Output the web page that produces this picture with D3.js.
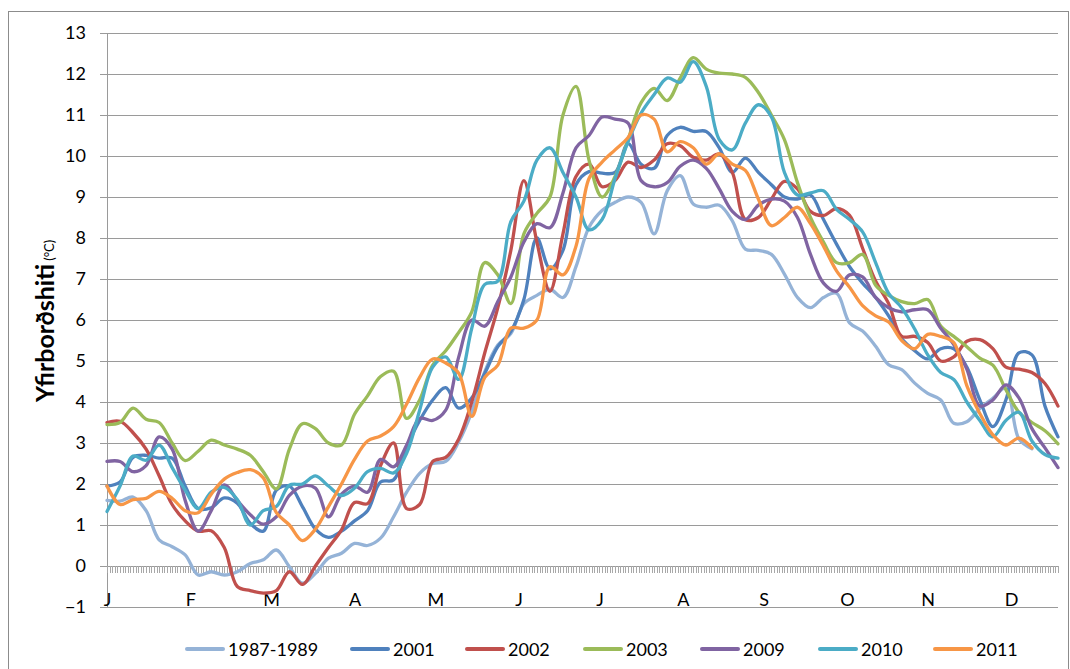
<!DOCTYPE html>
<html>
<head>
<meta charset="utf-8">
<script src="https://cdn.jsdelivr.net/npm/d3@7"></script>
<style>
  html, body { margin: 0; padding: 0; background: #fff; }
  svg { display: block; font-family: Lato, "Open Sans", sans-serif; }
</style>
</head>
<body>
<svg id="chart" width="1070" height="669"></svg>
<script>
// ---- data ----
const days = [0,5,10,15,20,25,30,35,40,45,50,55,60,65,70,75,80,85,90,95,100,105,110,115,120,125,130,135,140,145,150,155,160,165,170,175,180,185,190,195,200,205,210,215,220,225,230,235,240,245,250,255,260,265,270,275,280,285,290,295,300,305,310,315,320,325,330,335,340,345,350,355,360,365];

const seriesNames = ["1987-1989","2001","2002","2003","2009","2010","2011"];

const v1987_1989 = [1.6,1.58,1.68,1.35,0.64,0.47,0.27,-0.22,-0.14,-0.22,-0.14,0.06,0.15,0.39,-0.02,-0.42,-0.18,0.19,0.31,0.55,0.5,0.68,1.2,1.8,2.26,2.5,2.55,3.03,3.76,4.74,5.39,5.67,6.4,6.6,6.75,6.55,7.3,8.26,8.67,8.87,9.0,8.87,8.1,9.15,9.52,8.83,8.75,8.8,8.42,7.73,7.7,7.6,7.12,6.55,6.3,6.55,6.65,5.93,5.73,5.36,4.91,4.79,4.46,4.21,4.05,3.48,3.52,3.84,4.09,4.34,3.1,2.86,null,null];

const v2001 = [1.95,2.05,2.65,2.7,2.63,2.63,1.95,1.4,1.42,1.66,1.53,1.04,0.85,1.85,1.95,1.45,0.9,0.7,0.85,1.1,1.35,2.05,2.1,2.9,3.55,4.05,4.35,3.85,4.1,4.7,5.35,5.72,6.5,8.0,7.25,7.7,9.3,9.62,9.58,9.6,10.3,9.8,9.7,10.5,10.7,10.6,10.6,10.2,9.6,9.95,9.6,9.3,9.0,8.95,9.05,8.45,7.85,7.3,6.9,6.55,6.1,5.55,5.25,5.05,5.3,5.3,4.85,4.05,3.4,4.05,5.2,5.15,3.9,3.15];

const v2002 = [3.5,3.53,3.25,2.85,2.2,1.5,1.1,0.85,0.86,0.45,-0.5,-0.6,-0.66,-0.6,-0.14,-0.45,0.0,0.45,0.88,1.55,1.52,2.45,3.0,1.4,1.5,2.55,2.65,3.1,4.0,5.2,6.3,7.7,9.4,7.9,6.7,8.1,9.5,9.8,9.25,9.4,9.85,9.72,9.9,10.3,10.25,9.97,9.9,10.05,9.6,8.45,8.5,8.95,9.38,9.2,8.65,8.55,8.72,8.55,7.75,6.95,6.4,5.6,5.6,5.45,5.0,5.1,5.48,5.52,5.3,4.85,4.8,4.72,4.45,3.9];

const v2003 = [3.45,3.5,3.85,3.58,3.5,3.0,2.57,2.8,3.07,2.95,2.85,2.7,2.3,1.88,2.85,3.47,3.35,3.0,2.95,3.7,4.15,4.62,4.75,3.6,4.05,4.9,5.25,5.7,6.2,7.4,7.1,6.4,8.1,8.6,9.0,11.0,11.7,9.9,9.0,9.5,10.4,11.3,11.65,11.35,11.9,12.4,12.12,12.02,12.0,11.92,11.55,11.0,10.4,9.35,8.5,7.9,7.4,7.4,7.6,6.85,6.6,6.45,6.4,6.5,5.85,5.6,5.35,5.07,4.9,4.3,3.75,3.5,3.3,2.98];

const v2009 = [2.55,2.55,2.3,2.45,3.15,2.85,1.6,0.85,1.35,1.98,1.6,1.25,1.02,1.2,1.72,1.95,1.9,1.2,1.75,1.95,1.8,2.6,2.42,2.95,3.6,3.55,3.8,5.1,6.0,5.85,6.45,7.05,7.9,8.35,8.25,9.1,10.2,10.5,10.95,10.9,10.8,9.4,9.25,9.35,9.75,9.9,9.7,9.2,8.65,8.45,8.8,8.95,8.9,8.5,7.6,6.9,6.7,7.1,7.05,6.55,6.3,6.2,6.25,6.25,5.8,5.4,4.8,3.9,4.05,4.42,4.1,3.35,2.88,2.4];

const v2010 = [1.33,1.95,2.68,2.58,2.95,2.4,1.85,1.4,1.8,1.92,1.62,1.0,1.35,1.45,1.97,2.0,2.2,1.95,1.72,1.9,2.3,2.38,2.27,2.75,3.8,4.85,5.1,4.55,5.8,6.87,6.95,8.4,8.9,9.9,10.2,9.6,9.0,8.2,8.45,9.45,10.35,11.05,11.5,11.9,11.8,12.3,11.7,10.4,10.15,10.8,11.25,10.95,9.6,9.05,9.1,9.15,8.7,8.45,8.15,7.4,6.65,6.3,5.78,5.15,4.72,4.55,4.0,3.55,3.15,3.55,3.75,3.05,2.72,2.63];

const v2011 = [1.95,1.5,1.62,1.65,1.82,1.65,1.35,1.3,1.75,2.12,2.28,2.35,2.15,1.3,1.0,0.62,0.9,1.45,2.0,2.6,3.05,3.17,3.4,3.95,4.6,5.05,4.95,4.7,3.65,4.6,4.9,5.8,5.8,6.0,7.3,7.1,7.8,9.45,9.85,10.15,10.45,11.0,10.9,10.1,10.35,10.2,9.8,10.05,9.8,9.65,8.95,8.3,8.5,8.75,8.35,7.8,7.2,6.8,6.35,6.1,5.95,5.5,5.3,5.65,5.6,5.45,4.4,3.72,3.2,2.95,3.12,2.88,null,null];

const yTicks = [-1,0,1,2,3,4,5,6,7,8,9,10,11,12,13];
const monthLabels = ["J","F","M","A","M","J","J","A","S","O","N","D"];
const monthLabelDays = [0,32,63,95,126,158,189,221,252,284,315,347];

// ---- styles / layout ----
const colors = ["#95B3D7","#4F81BD","#C0504D","#9BBB59","#8064A2","#4BACC6","#F79646"];
const allValues = [v1987_1989, v2001, v2002, v2003, v2009, v2010, v2011];
const plotLeft = 107, plotRight = 1058, plotTop = 33, plotBottom = 607;
const gridColor = "#9A9A9A";

const svg = d3.select("#chart");

// outer border
svg.append("rect").attr("x", 8.5).attr("y", 11.5).attr("width", 1060).attr("height", 680)
  .attr("fill", "none").attr("stroke", "#8C8C8C").attr("stroke-width", 1);

const x = d3.scaleLinear().domain([0, 365]).range([plotLeft, plotRight]);
const y = d3.scaleLinear().domain([-1, 13]).range([plotBottom, plotTop]);

// gridlines
const grid = svg.append("g").attr("transform", `translate(${plotLeft},0)`)
  .call(d3.axisLeft(y).tickValues(yTicks).tickSize(-(plotRight - plotLeft)).tickFormat(""));
grid.select(".domain").remove();
grid.selectAll("line").attr("stroke", gridColor).attr("shape-rendering", "crispEdges");

// y axis with labels
const yAxis = svg.append("g").attr("transform", `translate(${plotLeft},0)`)
  .call(d3.axisLeft(y).tickValues(yTicks).tickSize(7).tickSizeOuter(0).tickPadding(14).tickFormat(d3.format("d")));
yAxis.select(".domain").attr("stroke", gridColor).attr("shape-rendering", "crispEdges");
yAxis.selectAll("line").attr("stroke", gridColor).attr("shape-rendering", "crispEdges");
yAxis.selectAll("text").attr("font-size", 18).attr("fill", "#000").attr("font-family", "Lato, sans-serif");

// x axis at 0 with daily ticks
const dayTicks = d3.range(0, 366);
const xAxis = svg.append("g").attr("transform", `translate(0,${y(0)})`)
  .call(d3.axisBottom(x).tickValues(dayTicks).tickSize(7).tickSizeOuter(0).tickFormat(""));
xAxis.select(".domain").attr("stroke", gridColor).attr("shape-rendering", "crispEdges");
xAxis.selectAll("line").attr("stroke", "#A8A8A8").attr("shape-rendering", "crispEdges");

// month labels
const mAxis = svg.append("g").attr("transform", `translate(0,${y(0)})`)
  .call(d3.axisBottom(x).tickValues(monthLabelDays).tickSize(0).tickPadding(27)
    .tickFormat((d, i) => monthLabels[i]));
mAxis.select(".domain").remove();
mAxis.selectAll("text").attr("font-size", 18).attr("fill", "#000").attr("font-family", "Lato, sans-serif");

// lines
const line = d3.line()
  .defined(d => d.v !== null)
  .x(d => x(d.day))
  .y(d => y(d.v))
  .curve(d3.curveCatmullRom.alpha(0.5));

allValues.forEach((vals, i) => {
  const pts = days.map((d, k) => ({ day: d, v: vals[k] }));
  svg.append("path").datum(pts)
    .attr("fill", "none")
    .attr("stroke", colors[i])
    .attr("stroke-width", 3.3)
    .attr("stroke-linejoin", "round")
    .attr("stroke-linecap", "round")
    .attr("d", line);
});

// y axis title
const title = svg.append("text")
  .attr("transform", "translate(54,402) rotate(-90)")
  .attr("text-anchor", "start")
  .attr("font-family", "Lato, sans-serif")
  .attr("fill", "#000");
title.append("tspan").attr("font-weight", "bold").attr("font-size", 25).text("Yfirborðshiti");
title.append("tspan").attr("font-size", 13).attr("dx", 3).text("(°C)");

// legend
const legendX = [187, 352, 467, 585, 702, 820, 935];
const legY = 649;
const leg = svg.append("g");
seriesNames.forEach((name, i) => {
  leg.append("line").attr("x1", legendX[i]).attr("x2", legendX[i] + 36)
    .attr("y1", legY).attr("y2", legY)
    .attr("stroke", colors[i]).attr("stroke-width", 4).attr("stroke-linecap", "round");
  leg.append("text").attr("x", legendX[i] + 41).attr("y", legY + 6.5)
    .attr("font-size", 18).attr("font-family", "Lato, sans-serif").attr("fill", "#000").text(name);
});
</script>
</body>
</html>
